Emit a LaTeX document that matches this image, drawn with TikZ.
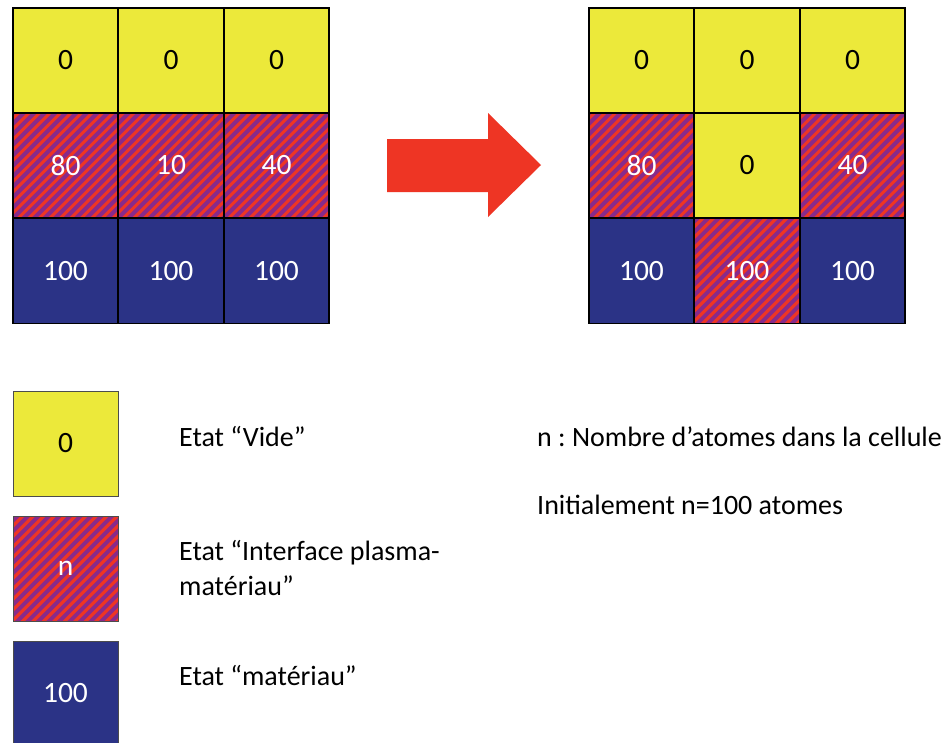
\documentclass[tikz,border=0pt]{standalone}
\usepackage{fontspec}
\setmainfont{Carlito}
\frenchspacing
\definecolor{cyel}{RGB}{236,233,58}
\definecolor{cblue}{RGB}{43,51,134}
\definecolor{cpurp}{RGB}{137,42,138}
\definecolor{cred}{RGB}{238,53,36}
\tikzset{
  cell/.style={draw=black, line width=1.2pt, minimum width=105pt, minimum height=105pt,
    inner sep=0pt, outer sep=0pt, font=\fontsize{29.5}{34}\selectfont},
  vide/.style={cell, fill=cyel, text=black},
  mat/.style={cell, fill=cblue, text=white},
  interf/.style={cell, text=white, path picture={
    \fill[cpurp] (path picture bounding box.south west) rectangle (path picture bounding box.north east);
    \begin{scope}[shift={(path picture bounding box.center)}]
      \foreach \i in {-14,...,14}
        \draw[cred, line width=3.1pt] (\i*10.5-70,70) -- (\i*10.5+70,-70);
    \end{scope}}},
  legend/.style={draw=black!70, line width=1pt},
  lbl/.style={anchor=base west, inner sep=0pt, font=\fontsize{28}{35}\selectfont, align=left},
}
\begin{document}
\begin{tikzpicture}[x=1pt, y=-1pt]
\clip (0,0) rectangle (952,742);
\fill[white] (0,0) rectangle (952,742);
% left grid
\node[vide] (a11) at (65.5,60.5) {0};
\node[vide] (a12) at (171,60.5) {0};
\node[vide] (a13) at (276.5,60.5) {0};
\node[interf] (a21) at (65.5,165.5) {80};
\node[interf] (a22) at (171,165.5) {10};
\node[interf] (a23) at (276.5,165.5) {40};
\node[mat] (a31) at (65.5,271) {100};
\node[mat] (a32) at (171,271) {100};
\node[mat] (a33) at (276.5,271) {100};
% right grid
\node[vide] (b11) at (641.5,60.5) {0};
\node[vide] (b12) at (747,60.5) {0};
\node[vide] (b13) at (852.5,60.5) {0};
\node[interf] (b21) at (641.5,165.5) {80};
\node[vide] (b22) at (747,165.5) {0};
\node[interf] (b23) at (852.5,165.5) {40};
\node[mat] (b31) at (641.5,271) {100};
\node[interf] (b32) at (747,271) {100};
\node[mat] (b33) at (852.5,271) {100};
% arrow
\fill[cred] (387,139) -- (488,139) -- (488,113) -- (541,165) -- (488,217) -- (488,192) -- (387,192) -- cycle;
% legend
\node[vide, legend] (l1) at (65.5,443.5) {0};
\node[interf, legend] (l2) at (65.5,568.5) {n};
\node[mat, legend] (l3) at (65.5,693.5) {100};
\node[lbl] (t1) at (179,446.5) {Etat “Vide”};
\node[lbl] (t2) at (179,595) {Etat “Interface plasma-\\matériau”};
\node[lbl] (t3) at (179,685) {Etat “matériau”};
\node[lbl] (t4) at (537,446.5) {n : Nombre d’atomes dans la cellule};
\node[lbl] (t5) at (537,514) {Initialement n=100 atomes};
\end{tikzpicture}
\end{document}
